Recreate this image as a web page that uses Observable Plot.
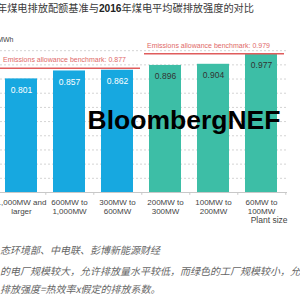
<!DOCTYPE html>
<html>
<head>
<meta charset="utf-8">
<script src="https://cdn.jsdelivr.net/npm/d3@7"></script>
<script src="https://cdn.jsdelivr.net/npm/@observablehq/plot@0.6"></script>
<style>
  html, body { margin: 0; padding: 0; background: #fff; overflow: hidden; }
  body { position: relative; width: 300px; height: 300px; font-family: "Noto Sans CJK SC", "Noto Sans", sans-serif; }
  #title { position: absolute; left: -3px; top: 1px; font-size: 10.2px; line-height: 14px; color: #3a3a3a; white-space: nowrap; }
  #title b { font-family: "Liberation Sans", Arial, sans-serif; font-weight: bold; color: #222; }
  #chart { position: absolute; left: 0; top: 20px; }
  .note { position: absolute; left: 0; font-size: 10px; line-height: 12px; color: #666; font-style: italic; white-space: nowrap; }
</style>
</head>
<body>
<div id="title">年煤电排放配额基准与<b>2016</b>年煤电平均碳排放强度的对比</div>
<div id="chart"></div>
<div class="note" style="top:244px">态环境部、中电联、彭博新能源财经</div>
<div class="note" style="top:265px">的电厂规模较大，允许排放量水平较低，而绿色的工厂规模较小，允</div>
<div class="note" style="top:283px">排放强度=热效率x假定的排放系数。</div>
<script>
// ---- data ----
const categories = ["1,000MW and\nlarger", "600MW to\n1,000MW", "300MW to\n600MW", "200MW to\n300MW", "100MW to\n200MW", "60MW to\n100MW"];
const intensity = [0.801, 0.857, 0.862, 0.896, 0.904, 0.977];
const groups = ["large", "large", "large", "small", "small", "small"];
const benchmarkValues = [0.877, 0.979];
const benchmarkFrom = ["1,000MW and\nlarger", "200MW to\n300MW"];
const benchmarkTo = ["300MW to\n600MW", "60MW to\n100MW"];
const yGridTicks = [0.1, 0.2, 0.3, 0.4, 0.5, 0.6, 0.7, 0.8, 0.9, 1.0];
const yLabel = "tCO2/MWh";
const xLabel = "Plant size";
const watermark = "BloombergNEF";

const bars = categories.map((c, i) => ({cat: c, v: intensity[i], g: groups[i]}));
const bench = benchmarkValues.map((v, i) => ({v, from: benchmarkFrom[i], to: benchmarkTo[i], label: "Emissions allowance benchmark: " + v.toFixed(3)}));

const BLUE = "#17a8e0";
const TEAL = "#3dbea6";
const RED = "#e05c5c";

const chart = Plot.plot({
  width: 300,
  height: 215,
  marginLeft: 0,
  marginRight: 13,
  marginTop: 16,
  marginBottom: 43,
  style: {fontFamily: "'Liberation Sans', Arial, sans-serif", background: "transparent", overflow: "visible"},
  x: {domain: categories, range: [-4.8, 286.8], paddingInner: 0.34, paddingOuter: 0.17, axis: null},
  y: {domain: [0, 1.1], axis: null},
  color: {domain: ["large", "small"], range: [BLUE, TEAL]},
  marks: [
    Plot.gridY(yGridTicks, {stroke: "#d4d4d4", strokeOpacity: 1, strokeDasharray: "2,2"}),
    Plot.barY(bars, {x: "cat", y: "v", fill: "g"}),
    Plot.ruleY([0], {stroke: "#c8c8c8"}),
    Plot.ruleX(categories, {x: d => d, y1: 0, y2: -0.02, dx: 24.3, stroke: "#c8c8c8"}),
    Plot.axisX({tickSize: 0, tickPadding: 6, fontSize: 8, lineHeight: 1.1, color: "#444", label: null}),
    Plot.text(bars.filter(d => d.g === "large"), {x: "cat", y: "v", text: d => d.v.toFixed(3), dy: 11, fill: "white", fontSize: 8.5}),
    Plot.text(bars.filter(d => d.g === "small"), {x: "cat", y: "v", text: d => d.v.toFixed(3), dy: 11, fill: "#333", fontSize: 8.5}),
    Plot.ruleY(bench, {y: "v", x1: "from", x2: "to", stroke: RED, strokeWidth: 1.5, insetLeft: -5, insetRight: -7}),
    Plot.text(bench, {x: "from", y: "v", text: "label", textAnchor: "start", dx: -18.5, dy: -8, fill: "#e06868", fontSize: 7}),
    Plot.text([yLabel], {frameAnchor: "top-left", textAnchor: "end", dx: 13, dy: 1, fill: "#444", fontSize: 7}),
    Plot.text([xLabel], {frameAnchor: "bottom-right", textAnchor: "end", dy: 30, fill: "#444", fontSize: 8.5}),
    Plot.text([watermark], {frameAnchor: "middle", dx: 40, dy: 6, fill: "#000", fontSize: 26.5, fontWeight: "bold"})
  ]
});
document.getElementById("chart").appendChild(chart);
</script>
</body>
</html>
